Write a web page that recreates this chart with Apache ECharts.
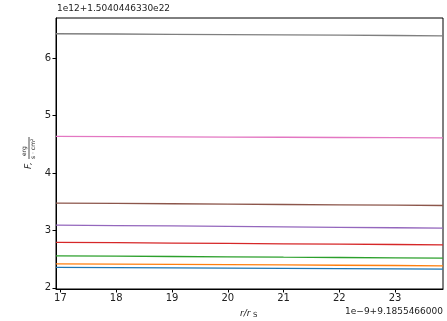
<!DOCTYPE html>
<html>
<head>
<meta charset="utf-8">
<script src="https://cdn.jsdelivr.net/npm/echarts@6/dist/echarts.min.js"></script>
<style>
  html, body { margin: 0; padding: 0; background: #fff; }
  #chart { width: 447px; height: 321px; }
</style>
</head>
<body>
<div id="chart"></div>
<script>
// radius positions (r/r_S, shown relative to the offset 9.1855466000, in units of 1e-9)
const radii = [16.92, 18, 19, 20, 21, 22, 23, 23.86];

// flux per curve (relative to 1.5040446330e22, in units of 1e12)
const fluxBlue   = [2.355, 2.351, 2.347, 2.343, 2.339, 2.335, 2.331, 2.327];
const fluxOrange = [2.419, 2.414, 2.409, 2.404, 2.399, 2.394, 2.389, 2.384];
const fluxGreen  = [2.558, 2.552, 2.546, 2.540, 2.534, 2.529, 2.523, 2.518];
const fluxRed    = [2.792, 2.786, 2.780, 2.774, 2.767, 2.761, 2.755, 2.749];
const fluxPurple = [3.093, 3.085, 3.078, 3.070, 3.062, 3.055, 3.047, 3.041];
const fluxBrown  = [3.477, 3.471, 3.465, 3.458, 3.452, 3.446, 3.440, 3.434];
const fluxPink   = [4.637, 4.633, 4.630, 4.626, 4.623, 4.619, 4.616, 4.613];
const fluxGray   = [6.426, 6.421, 6.416, 6.410, 6.405, 6.400, 6.395, 6.390];

const xTicks = [17, 18, 19, 20, 21, 22, 23];
const yTicks = [2, 3, 4, 5, 6];

const curves = [
  { data: fluxBlue,   color: '#1f77b4' },
  { data: fluxOrange, color: '#ff7f0e' },
  { data: fluxGreen,  color: '#2ca02c' },
  { data: fluxRed,    color: '#d62728' },
  { data: fluxPurple, color: '#9467bd' },
  { data: fluxBrown,  color: '#8c564b' },
  { data: fluxPink,   color: '#e377c2' },
  { data: fluxGray,   color: '#7f7f7f' }
];

const font = 'DejaVu Sans';
const chart = echarts.init(document.getElementById('chart'), null, { renderer: 'canvas' });

chart.setOption({
  animation: false,
  backgroundColor: '#fff',
  grid: { left: 56, right: 4, top: 18, bottom: 32, show: true, borderColor: '#000', borderWidth: 1 },
  xAxis: {
    type: 'value',
    min: 16.92, max: 23.86,
    splitLine: { show: false },
    axisLine: { show: true, lineStyle: { color: '#000', width: 1 } },
    axisTick: { show: true, customValues: xTicks, length: 3.5, lineStyle: { color: '#000' } },
    axisLabel: { customValues: xTicks, color: '#222', fontFamily: font, fontSize: 10, margin: 4 }
  },
  yAxis: {
    type: 'value',
    min: 1.98, max: 6.70,
    splitLine: { show: false },
    axisLine: { show: true, lineStyle: { color: '#000', width: 1 } },
    axisTick: { show: true, customValues: yTicks, length: 3.5, lineStyle: { color: '#000' } },
    axisLabel: { customValues: yTicks, color: '#222', fontFamily: font, fontSize: 10, margin: 5 }
  },
  series: curves.map(c => ({
    type: 'line',
    data: radii.map((r, i) => [r, c.data[i]]),
    showSymbol: false,
    lineStyle: { color: c.color, width: 1.3 },
    itemStyle: { color: c.color }
  })),
  graphic: [
    { type: 'text', left: 57, top: 4,
      style: { text: '1e12+1.5040446330e22', font: '9px "DejaVu Sans"', fill: '#222' } },
    { type: 'text', right: 4, top: 307,
      style: { text: '1e\u22129+9.1855466000', font: '9px "DejaVu Sans"', fill: '#222' } },
    { type: 'text', left: 240, top: 309,
      style: { text: 'r/r', font: 'italic 9px "DejaVu Sans"', fill: '#222' } },
    { type: 'text', left: 253, top: 312,
      style: { text: 'S', font: '7px "DejaVu Sans"', fill: '#222' } },
    {
      type: 'group', x: 29, y: 152, rotation: Math.PI / 2,
      children: [
        { type: 'text', x: -17, y: -5, style: { text: 'F,', font: 'italic 9px "DejaVu Sans"', fill: '#222' } },
        { type: 'text', x: -4, y: -8, style: { text: 'erg', font: '6px "DejaVu Sans"', fill: '#222' } },
        { type: 'line', shape: { x1: -7, y1: 0, x2: 15, y2: 0 }, style: { stroke: '#222', lineWidth: 0.8 } },
        { type: 'text', x: -7, y: 1, style: { text: 's \u00b7 cm\u00b2', font: '6px "DejaVu Sans"', fill: '#222' } }
      ]
    }
  ]
});
</script>
</body>
</html>
